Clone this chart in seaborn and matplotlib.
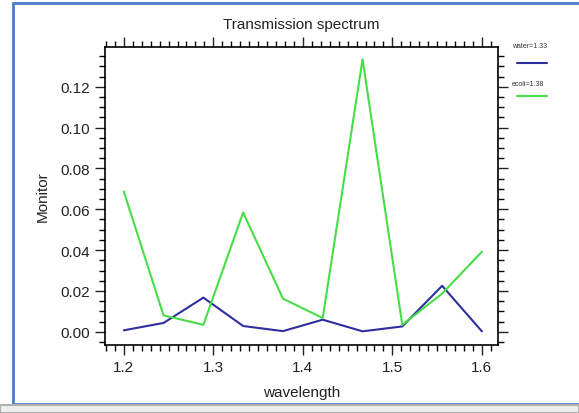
import numpy as np
import pandas as pd
import matplotlib
matplotlib.use("Agg")
import matplotlib.pyplot as plt
import seaborn as sns
from matplotlib.lines import Line2D
from matplotlib.patches import Rectangle
from matplotlib.ticker import MultipleLocator

wavelength = [1.2, 1.2444, 1.2889, 1.3333, 1.3778, 1.4222, 1.4667, 1.5111, 1.5556, 1.6]
water = [0.0007, 0.0043, 0.0167, 0.0028, 0.0003, 0.0059, 0.0002, 0.0026, 0.0225, 0.0002]
ecoli = [0.0687, 0.0080, 0.0034, 0.0584, 0.0162, 0.0067, 0.1335, 0.0034, 0.0187, 0.0392]
series_names = ["water=1.33", "ecoli=1.38"]
colors = ["#2e2e9e", "#47dd47"]


def create_plot():
    sns.set_style("white")
    plt.rcParams["font.family"] = ["Liberation Sans", "DejaVu Sans"]

    df = pd.DataFrame({
        "wavelength": wavelength * 2,
        "Monitor": water + ecoli,
        "series": [series_names[0]] * len(water) + [series_names[1]] * len(ecoli),
    })

    fig = plt.figure(figsize=(5.79, 4.14), dpi=100)
    ax = fig.add_axes([105 / 579, 1 - 346 / 414, 393 / 579, 298 / 414])

    sns.lineplot(data=df, x="wavelength", y="Monitor", hue="series",
                 palette=dict(zip(series_names, colors)), linewidth=1.5,
                 legend=False, ax=ax)

    ax.set_xlim(1.179, 1.618)
    ax.set_ylim(-0.0065, 0.1395)
    ax.xaxis.set_major_locator(MultipleLocator(0.1))
    ax.xaxis.set_minor_locator(MultipleLocator(0.01))
    ax.yaxis.set_major_locator(MultipleLocator(0.02))
    ax.yaxis.set_minor_locator(MultipleLocator(0.005))
    ax.xaxis.set_major_formatter(matplotlib.ticker.FormatStrFormatter("%.1f"))
    ax.yaxis.set_major_formatter(matplotlib.ticker.FormatStrFormatter("%.2f"))
    ax.tick_params(which="both", direction="out", top=True, right=True,
                   bottom=True, left=True, color="black", width=1)
    ax.tick_params(which="major", length=7, labelsize=11, colors="#222222")
    ax.tick_params(which="minor", length=4)
    for s in ax.spines.values():
        s.set_color("black")
        s.set_linewidth(1.2)

    ax.set_title("Transmission spectrum", fontsize=11, pad=14, color="#222222")
    ax.set_xlabel("wavelength", fontsize=11, color="#222222", labelpad=8)
    ax.set_ylabel("Monitor", fontsize=11, color="#222222", labelpad=8)

    # legend, label above line
    for i, (name, c) in enumerate(zip(series_names, colors)):
        ty = 1 - (47 + i * 38) / 414
        ly = 1 - (64 + i * 33) / 414
        fig.text(512 / 579, ty, name, fontsize=5, color="#333333", va="center")
        fig.add_artist(Line2D([517 / 579, 547 / 579], [ly, ly], color=c,
                              linewidth=1.5, transform=fig.transFigure))

    # window frame
    fig.add_artist(Rectangle((13 / 579, 1 - 405 / 414), 1, 401 / 414,
                             fill=False, edgecolor="#4a7cc4", linewidth=2,
                             transform=fig.transFigure))
    fig.add_artist(Rectangle((0, 0), 1, 8 / 414, facecolor="#eeeeee",
                             edgecolor="#b0b0b0", linewidth=1.5,
                             transform=fig.transFigure))

    fig.savefig("out.png", dpi=100)
    plt.close(fig)


if __name__ == "__main__":
    create_plot()
